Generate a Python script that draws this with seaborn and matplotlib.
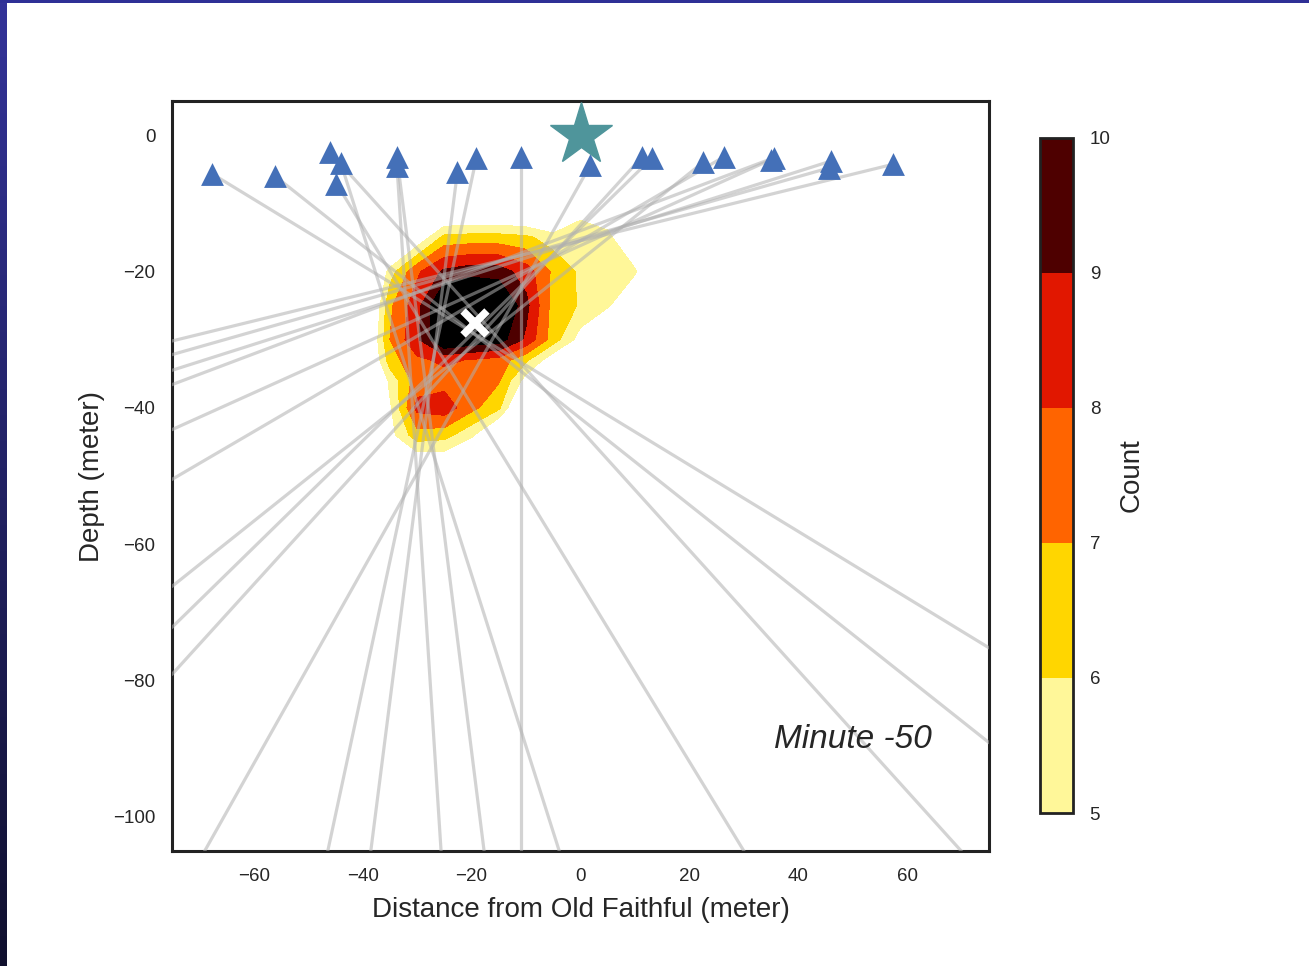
import numpy as np
import matplotlib
matplotlib.use("Agg")
import matplotlib.pyplot as plt
import matplotlib as mpl
import pandas as pd
import seaborn as sns
from matplotlib.colors import ListedColormap, BoundaryNorm, LinearSegmentedColormap

# ---------------- data ----------------
station_x = [-67.6, -56.1, -46.0, -44.0, -44.8, -33.7, -33.7, -22.6, -19.1, -11.0,
             1.8, 11.3, 13.2, 22.5, 26.3, 35.0, 35.6, 45.7, 46.0, 57.3]
station_y = [-5.7, -6.0, -2.5, -4.1, -7.1, -3.2, -4.5, -5.4, -3.3, -3.2,
             -4.4, -3.2, -3.3, -4.0, -3.2, -3.6, -3.3, -4.8, -3.8, -4.3]

ray_station = list(range(20))
ray_end_x = [75, 75, 69.9, -3.9, 30, -17.7, -25.6, -38.5, -46.4, -11.0,
             -69.0, -75, -75, -75, -75, -75, -75, -75, -75, -75]
ray_end_y = [-75.2, -89.1, -105, -105, -105, -105, -105, -105, -105, -105,
             -105, -79.1, -72.2, -66.2, -50.5, -43.2, -36.6, -32.2, -34.5, -30.2]

grid_x = [-40, -35, -30, -25, -20, -15, -10, -5, 0, 5, 10, 15]
grid_y = [-10, -15, -20, -25, -30, -33, -36, -40, -44, -48, -52]
count_grid = [
    [0.0, 0.0, 0.0, 2.3, 2.5, 2.5, 2.3, 1.5, 4.5, 3.5, 0.0, 0.0],
    [0.0, 1.0, 4.0, 6.3, 6.4, 6.4, 6.2, 5.5, 5.5, 5.4, 3.0, 0.0],
    [1.0, 5.5, 7.8, 9.2, 9.6, 9.5, 8.5, 6.8, 5.8, 5.6, 5.2, 2.0],
    [1.8, 6.8, 8.6, 11.5, 12.0, 11.5, 9.3, 6.6, 5.9, 5.2, 3.0, 0.0],
    [2.5, 7.0, 8.8, 11.3, 10.8, 10.5, 8.8, 6.5, 4.5, 2.0, 0.0, 0.0],
    [2.5, 6.5, 7.8, 8.2, 7.9, 7.6, 6.2, 4.2, 1.5, 0.0, 0.0, 0.0],
    [1.0, 5.3, 7.5, 7.6, 7.4, 7.1, 4.5, 2.0, 0.0, 0.0, 0.0, 0.0],
    [1.0, 4.8, 8.3, 8.6, 7.3, 6.2, 2.5, 0.5, 0.0, 0.0, 0.0, 0.0],
    [0.5, 4.6, 6.6, 6.4, 5.2, 3.0, 0.5, 0.0, 0.0, 0.0, 0.0, 0.0],
    [0.0, 2.5, 4.0, 4.0, 3.0, 1.0, 0.0, 0.0, 0.0, 0.0, 0.0, 0.0],
    [0.0, 0.0, 0.0, 0.0, 0.0, 0.0, 0.0, 0.0, 0.0, 0.0, 0.0, 0.0],
]
count_levels = [5, 6, 7, 8, 9, 10, 20]
count_colors = ["#fff799", "#ffd600", "#ff6400", "#e11700", "#4e0000", "#000000"]
cbar_ticks = [5, 6, 7, 8, 9, 10]

vent_x, vent_y = [0.0], [0.0]
source_x, source_y = [-19.3], [-27.6]

x_ticks = [-60, -40, -20, 0, 20, 40, 60]
y_ticks = [0, -20, -40, -60, -80, -100]

# ---------------- style ----------------
sns.set_theme(style="white")
plt.rcParams["font.family"] = ["Liberation Sans", "DejaVu Sans"]
plt.rcParams["axes.unicode_minus"] = True
text_color = "#262626"

fig = plt.figure(figsize=(13.09, 9.66), dpi=100)
fig.patch.set_facecolor("white")

# slide border decoration
border_ax = fig.add_axes([0, 0, 7 / 1309, 1])
grad = np.linspace(0, 1, 256).reshape(-1, 1)
border_cmap = LinearSegmentedColormap.from_list("b", ["#333399", "#10102e"])
border_ax.imshow(grad, aspect="auto", cmap=border_cmap, extent=[0, 1, 0, 1])
border_ax.axis("off")
top_ax = fig.add_axes([0, 1 - 3 / 966, 1, 3 / 966])
top_ax.set_facecolor("#2f3096")
top_ax.set_xticks([]); top_ax.set_yticks([])
for s in top_ax.spines.values():
    s.set_visible(False)

ax = fig.add_axes([172 / 1309, 1 - 851 / 966, 817 / 1309, 750 / 966])

# contour of counts
X, Y = np.meshgrid(grid_x, grid_y)
Z = np.array(count_grid)
ax.contourf(X, Y, Z, levels=count_levels, colors=count_colors, zorder=1)

# rays
rows = []
for i, st in enumerate(ray_station):
    rows.append({"ray": i, "order": 0, "x": station_x[st], "y": station_y[st]})
    rows.append({"ray": i, "order": 1, "x": ray_end_x[i], "y": ray_end_y[i]})
rays = pd.DataFrame(rows)
sns.lineplot(data=rays, x="x", y="y", units="ray", estimator=None, sort=False,
             color="#b0b0b0", alpha=0.55, lw=2.3, ax=ax, zorder=3)

# stations
st_df = pd.DataFrame({"x": station_x, "y": station_y})
sns.scatterplot(data=st_df, x="x", y="y", marker="^", s=270, color="#4470b8",
                linewidth=0, ax=ax, zorder=5)

# vent star
ax.plot(vent_x, vent_y, marker="*", markersize=47, color="#4f959b",
        linestyle="none", zorder=6)
# source X
ax.plot(source_x, source_y, marker="x", markersize=17, mew=5.5, color="white",
        linestyle="none", zorder=7)

ax.text(50, -88.7, "Minute -50", fontsize=24, fontstyle="italic",
        ha="center", va="center", color=text_color, zorder=8)

ax.set_xlim(-75, 75)
ax.set_ylim(-105, 5)
ax.set_xticks(x_ticks)
ax.set_yticks(y_ticks)
ax.tick_params(axis="both", length=0, labelsize=13.5, colors=text_color, pad=12)
ax.set_xlabel("Distance from Old Faithful (meter)", fontsize=20, color=text_color, labelpad=9)
ax.set_ylabel("Depth (meter)", fontsize=20, color=text_color, labelpad=6)
for s in ax.spines.values():
    s.set_visible(True)
    s.set_color("#222222")
    s.set_linewidth(2.2)

# colorbar
cax = fig.add_axes([1040 / 1309, 1 - 813 / 966, 33 / 1309, 675 / 966])
cmap = ListedColormap(count_colors[:5])
norm = BoundaryNorm(cbar_ticks, cmap.N)
sm = mpl.cm.ScalarMappable(norm=norm, cmap=cmap)
cb = fig.colorbar(sm, cax=cax, ticks=cbar_ticks)
cb.outline.set_edgecolor("#222222")
cb.outline.set_linewidth(2)
cax.tick_params(length=0, labelsize=13.5, colors=text_color, pad=12)
cb.set_label("Count", fontsize=20, color=text_color, labelpad=6)

fig.savefig("out.png", dpi=100, facecolor="white")
